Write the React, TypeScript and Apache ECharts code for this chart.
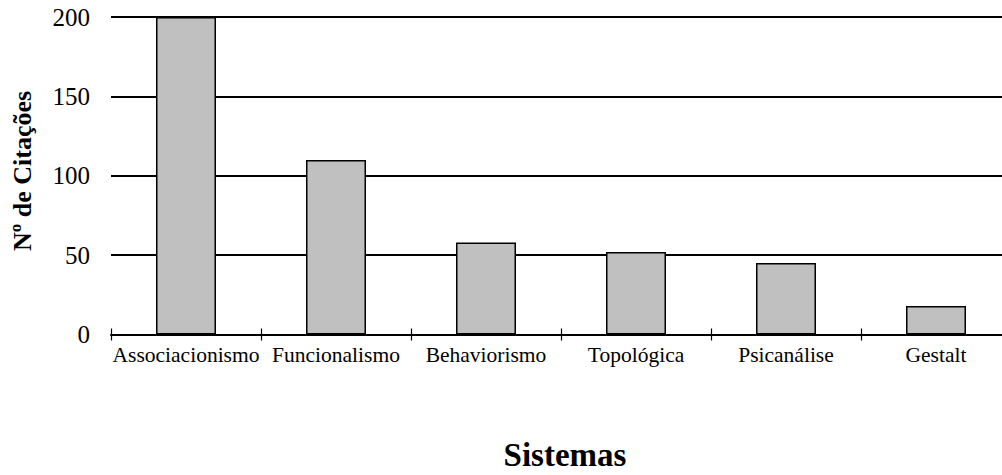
import React, { useEffect, useRef } from "react";
import * as echarts from "echarts";

const categories = ["Associacionismo", "Funcionalismo", "Behaviorismo", "Topológica", "Psicanálise", "Gestalt"];
const citations = [200, 110, 58, 52, 45, 18];
const yTicks = { min: 0, max: 200, interval: 50 };
const yTitle = "Nº de Citações";
const xTitle = "Sistemas";

const FONT = "'Liberation Serif', 'Times New Roman', serif";

export default function App() {
  const ref = useRef<HTMLDivElement>(null);
  useEffect(() => {
    if (!ref.current) return;
    const chart = echarts.init(ref.current, undefined, { renderer: "svg" });
    chart.setOption({
      animation: false,
      backgroundColor: "#ffffff",
      grid: { left: 111, top: 17, width: 900, height: 317.5, outerBoundsMode: "none" },
      xAxis: [
        {
          type: "category",
          data: categories,
          position: "bottom",
          axisLine: { show: true, lineStyle: { color: "#000", width: 2 } },
          axisTick: { show: true, interval: 0, length: 6, lineStyle: { color: "#000", width: 1.2 } },
          axisLabel: { color: "#000", fontFamily: FONT, fontSize: 21.5, margin: 9, interval: 0 },
          splitLine: { show: false },
        },
        {
          type: "category",
          data: categories,
          position: "bottom",
          axisLine: { show: false },
          axisTick: { show: true, interval: 0, inside: true, length: 6, lineStyle: { color: "#000", width: 1.2 } },
          axisLabel: { show: false },
          splitLine: { show: false },
        },
      ],
      yAxis: {
        type: "value",
        min: yTicks.min,
        max: yTicks.max,
        interval: yTicks.interval,
        axisLine: { show: false },
        axisTick: { show: false },
        axisLabel: { color: "#000", fontFamily: FONT, fontSize: 25, margin: 21 },
        splitLine: { show: true, lineStyle: { color: "#000", width: 2 } },
      },
      series: [
        {
          type: "bar",
          data: citations,
          barWidth: "40%",
          itemStyle: { color: "#C0C0C0", borderColor: "#000", borderWidth: 1.5 },
        },
      ],
      graphic: [
        {
          type: "text",
          x: 22,
          y: 171,
          rotation: Math.PI / 2,
          style: {
            text: yTitle,
            fontFamily: FONT,
            fontSize: 26,
            fontWeight: "bold",
            fill: "#000",
            textAlign: "center",
            textVerticalAlign: "middle",
          },
        },
        {
          type: "text",
          x: 565,
          y: 455,
          style: {
            text: xTitle,
            fontFamily: FONT,
            fontSize: 33,
            fontWeight: "bold",
            fill: "#000",
            textAlign: "center",
            textVerticalAlign: "middle",
          },
        },
      ],
    });
    return () => chart.dispose();
  }, []);
  return (
    <div
      ref={ref}
      style={{ position: "fixed", left: 0, top: 0, width: 1002, height: 475, overflow: "hidden", background: "#fff" }}
    />
  );
}
